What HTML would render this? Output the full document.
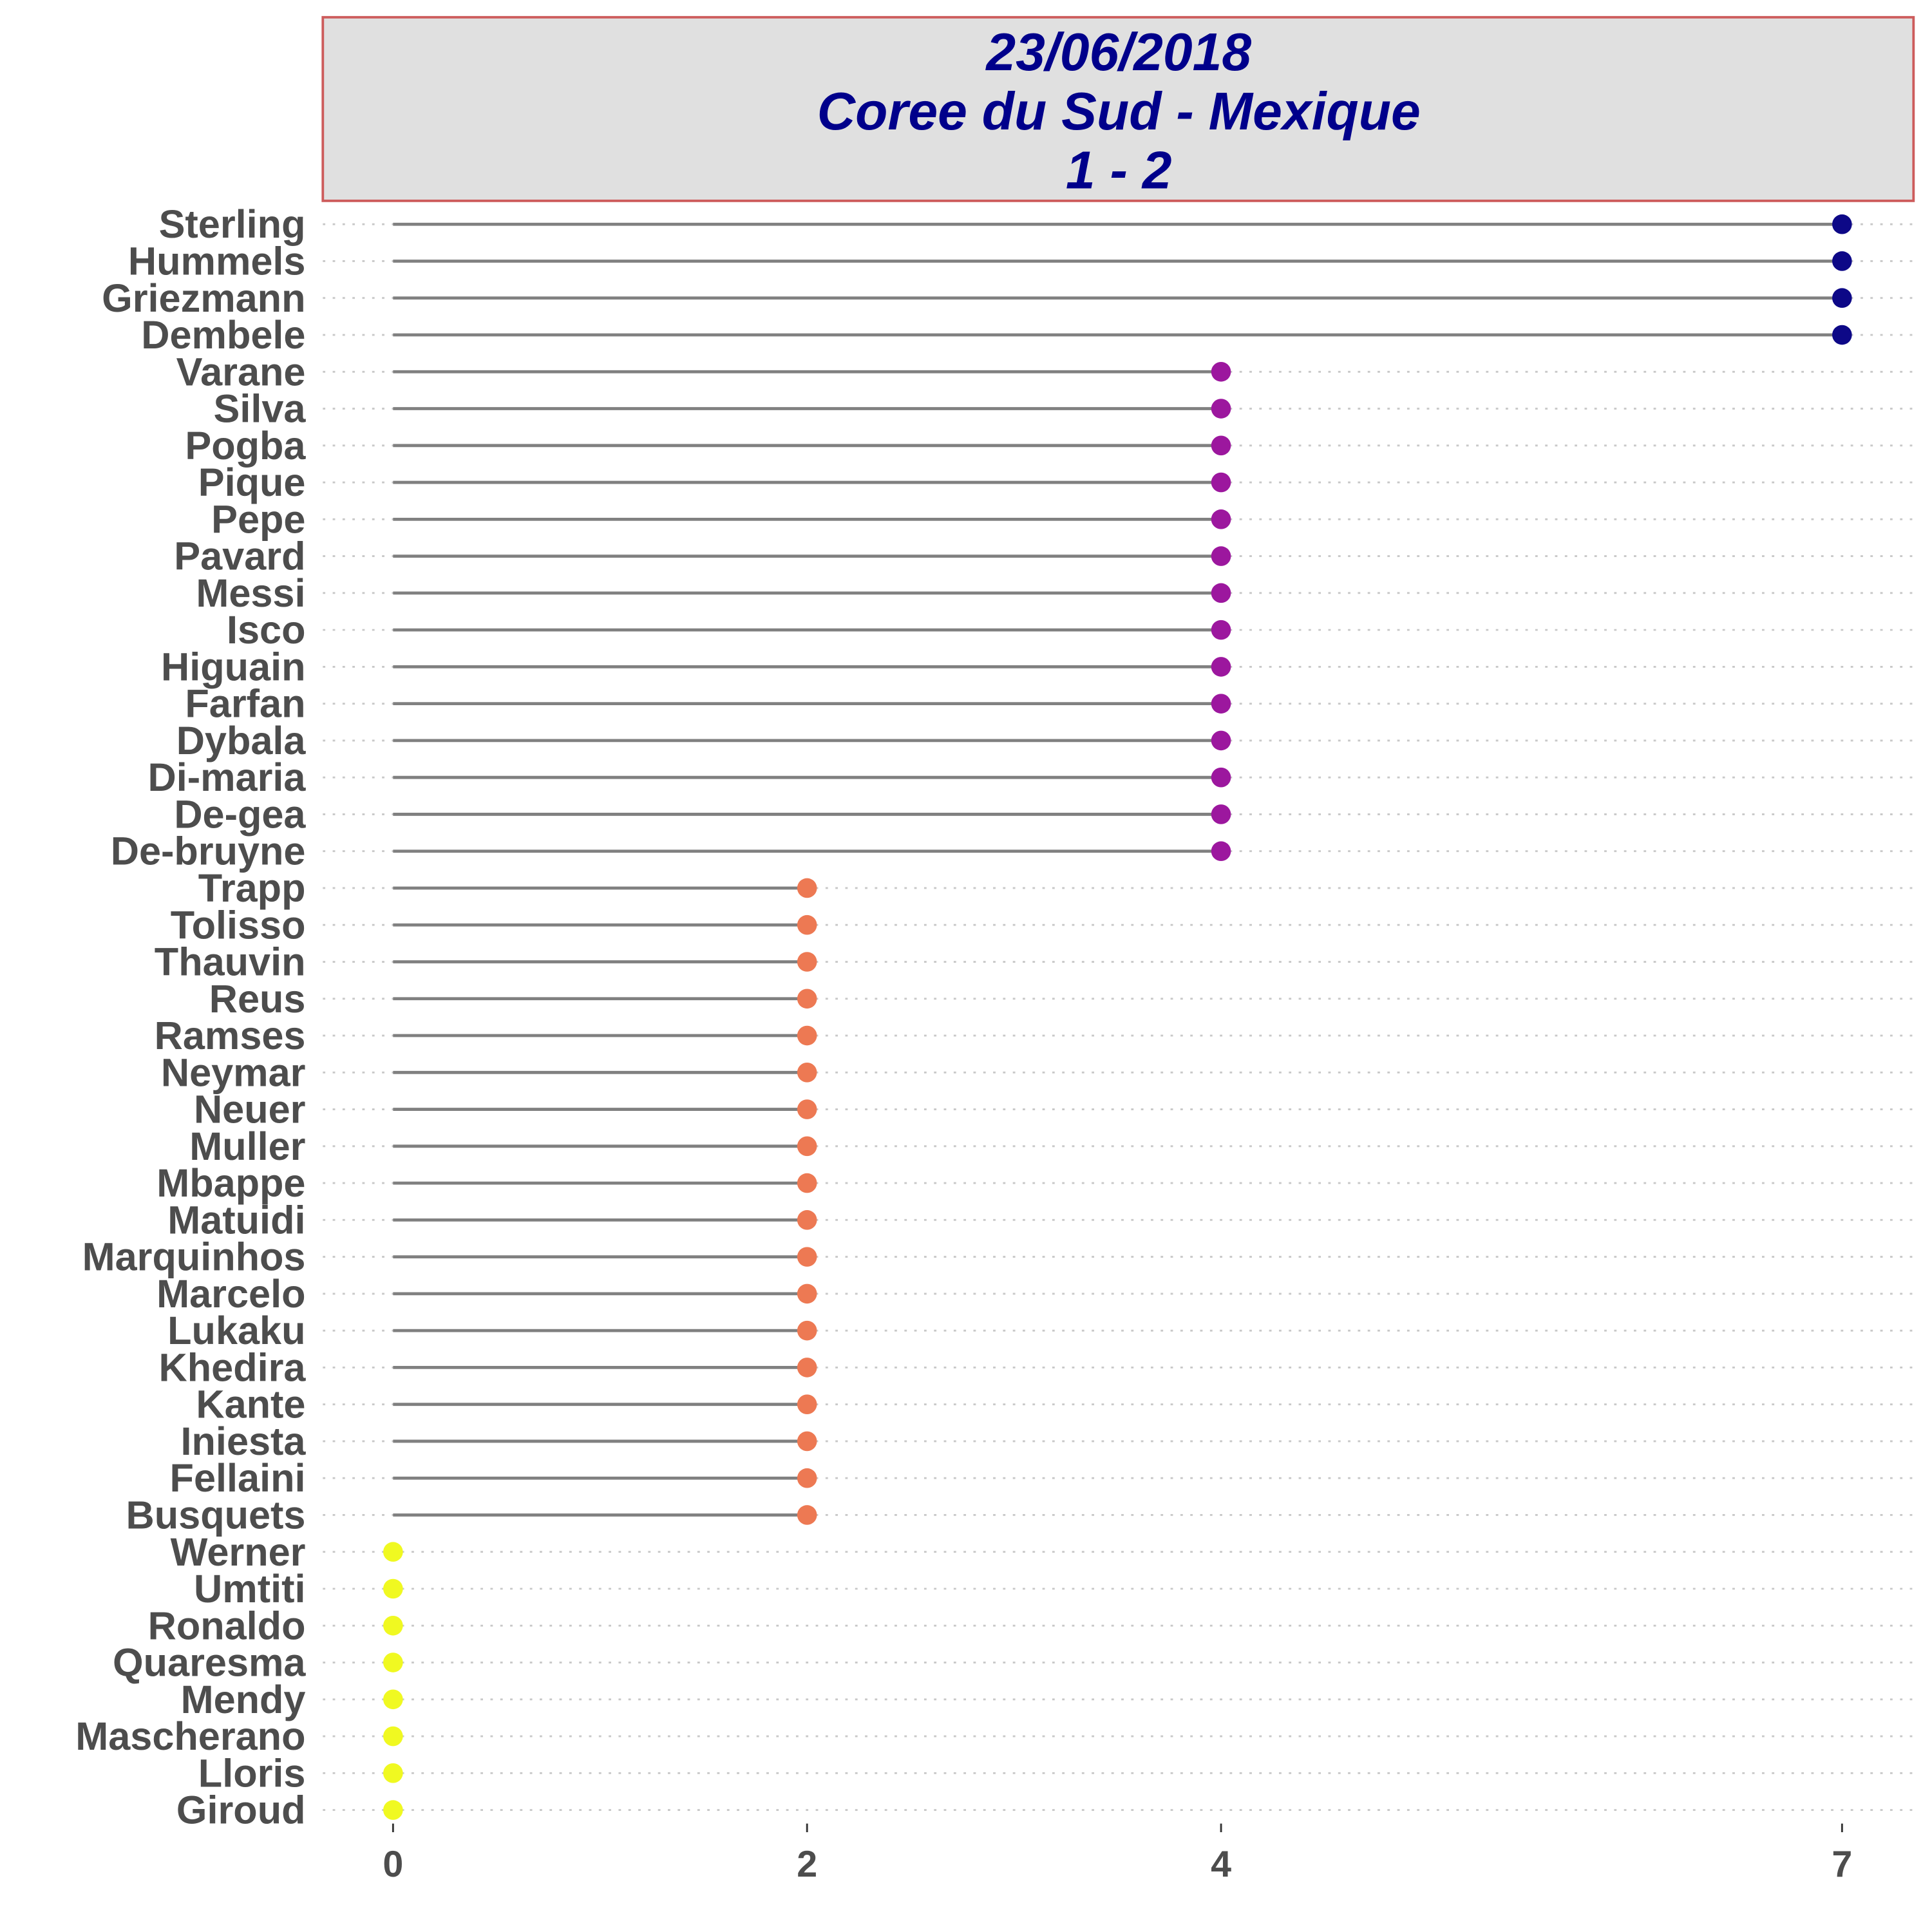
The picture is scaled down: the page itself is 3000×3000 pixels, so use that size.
<!DOCTYPE html>
<html><head><meta charset="utf-8"><style>
html,body{margin:0;padding:0;background:#fff;}
svg{display:block;font-family:"Liberation Sans",sans-serif;}
</style></head><body>
<svg id="chart" width="3000" height="3000" viewBox="0 0 1568 1568" xmlns="http://www.w3.org/2000/svg">
<g>
<rect x="262" y="14" width="1291" height="149" fill="#e0e0e0" stroke="#cd5c5c" stroke-width="2"/>
<text x="908" y="57" text-anchor="middle" font-size="43" font-weight="bold" font-style="italic" fill="#00008b">23/06/2018</text>
<text x="908" y="105" text-anchor="middle" font-size="43" font-weight="bold" font-style="italic" fill="#00008b">Coree du Sud - Mexique</text>
<text x="908" y="153" text-anchor="middle" font-size="43" font-weight="bold" font-style="italic" fill="#00008b">1 - 2</text>
</g>
<g id="grid"></g><g id="marks"></g><g id="labels"></g><g id="xaxis"></g>
</svg>
<script>
const players = ["Sterling","Hummels","Griezmann","Dembele","Varane","Silva","Pogba","Pique","Pepe","Pavard","Messi","Isco","Higuain","Farfan","Dybala","Di-maria","De-gea","De-bruyne","Trapp","Tolisso","Thauvin","Reus","Ramses","Neymar","Neuer","Muller","Mbappe","Matuidi","Marquinhos","Marcelo","Lukaku","Khedira","Kante","Iniesta","Fellaini","Busquets","Werner","Umtiti","Ronaldo","Quaresma","Mendy","Mascherano","Lloris","Giroud"];
const values = [7,7,7,7,4,4,4,4,4,4,4,4,4,4,4,4,4,4,2,2,2,2,2,2,2,2,2,2,2,2,2,2,2,2,2,2,0,0,0,0,0,0,0,0];
const ticks = [0,2,4,7];
const colorMap = {7:"#0d0887",4:"#9c179e",2:"#ed7953",0:"#f0f921"};
const NS="http://www.w3.org/2000/svg";
function x(v){return 319+v*168;}
function y(i){return 182+i*(1469-182)/43;}
function mk(t,a,p){const e=document.createElementNS(NS,t);for(const k in a)e.setAttribute(k,a[k]);p.appendChild(e);return e;}
const G=document.getElementById('grid'),M=document.getElementById('marks'),L=document.getElementById('labels'),X=document.getElementById('xaxis');
players.forEach((p,i)=>{
  const yy=y(i);
  const g=mk('line',{x1:262,x2:1553,y1:yy,y2:yy,stroke:"#c8c8c8","stroke-width":1.5,"stroke-dasharray":"2 6"},G);
  
  
  if(values[i]>0){
    const s=mk('line',{x1:x(0),x2:x(values[i]),y1:yy,y2:yy,stroke:"#808080","stroke-width":2.5},M);
    
    
  }
  const c=mk('circle',{cx:x(values[i]),cy:yy,r:8,fill:colorMap[values[i]]},M);
  
  
  const t=mk('text',{x:248,y:yy+11,"text-anchor":"end","font-size":32,"font-weight":"bold",fill:"#4d4d4d"},L);
  t.textContent=p;
  
  
});
ticks.forEach(v=>{
  const tk=mk('line',{x1:x(v),x2:x(v),y1:1480,y2:1487,stroke:"#333","stroke-width":1.5},X);
  
  
  const t=mk('text',{x:x(v),y:1523,"text-anchor":"middle","font-size":30,"font-weight":"bold",fill:"#4d4d4d"},X);
  t.textContent=v;
  
  
});
</script>
</body></html>
